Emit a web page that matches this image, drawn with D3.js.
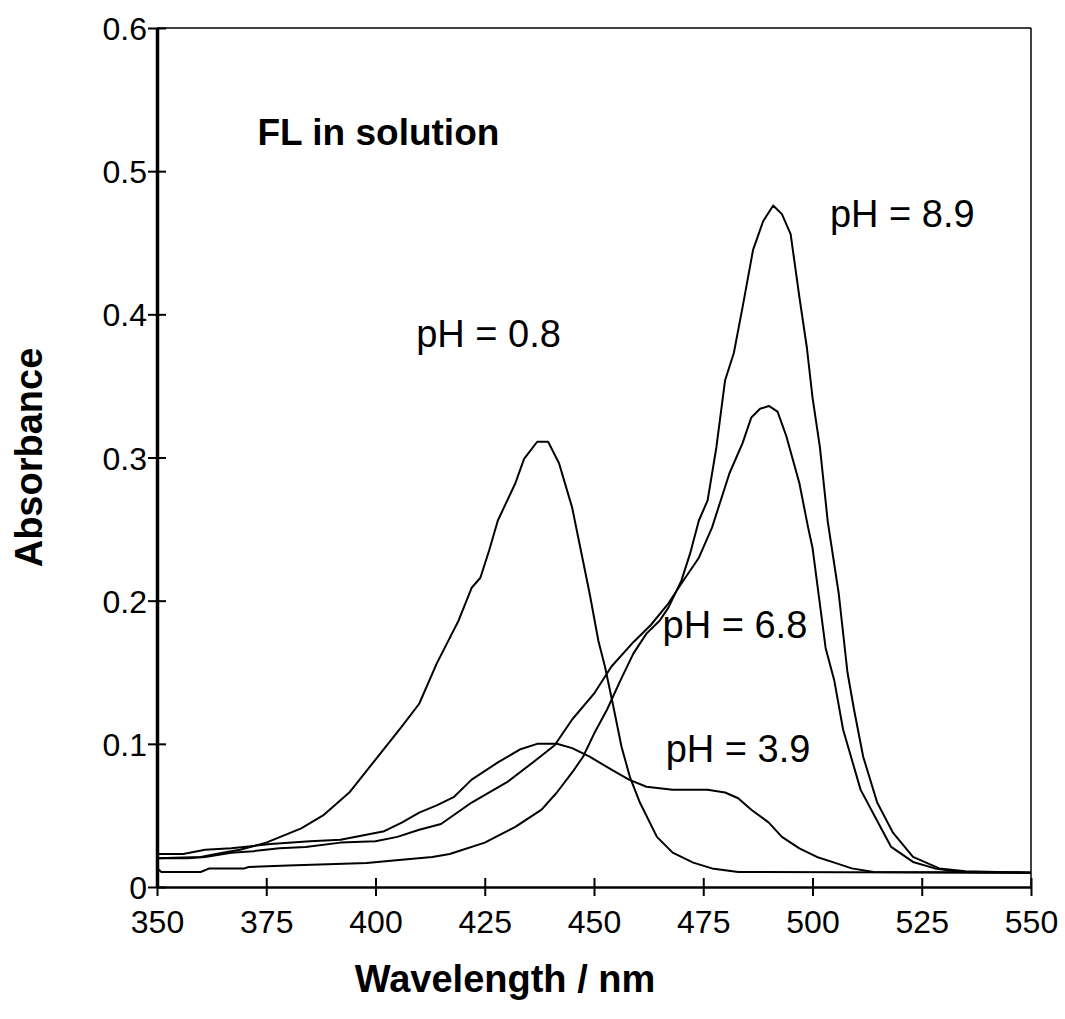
<!doctype html>
<html>
<head>
<meta charset="utf-8">
<script src="https://cdnjs.cloudflare.com/ajax/libs/d3/7.8.5/d3.min.js"></script>
<style>
  body { margin: 0; background: #fff; }
  svg { display: block; }
  text { font-family: Arial, "Liberation Sans", sans-serif; fill: #000; }
</style>
</head>
<body>
<svg id="chart" width="1065" height="1019"></svg>
<script>
// spectra: [wavelength nm, absorbance]
const ph08 = [[350,0.020],[360,0.021],[365,0.024],[369,0.026],[375,0.031],[383,0.041],[388,0.050],
  [394,0.066],[400,0.089],[406,0.112],[410,0.128],[414,0.156],[417,0.174],[419,0.186],[422,0.209],
  [424,0.216],[426,0.235],[428,0.256],[430,0.269],[432,0.282],[434,0.299],[437,0.311],[439.5,0.311],
  [442,0.296],[445,0.265],[447,0.235],[449,0.205],[451,0.172],[452.5,0.154],[454.3,0.128],[456.3,0.098],
  [458.2,0.077],[460.5,0.059],[464.4,0.035],[468,0.024],[472.7,0.017],[477,0.013],[483,0.0105],[550,0.010]];
const ph39 = [[350,0.023],[356,0.023],[361,0.026],[367,0.027],[376,0.030],[385,0.032],[392,0.033],
  [397,0.036],[402,0.039],[406,0.045],[410,0.052],[414,0.057],[418,0.063],[422,0.075],[428,0.087],
  [433,0.096],[437,0.100],[441.5,0.100],[445,0.097],[449,0.091],[454,0.082],[458,0.075],[462,0.070],
  [468,0.068],[476,0.068],[480,0.066],[483,0.062],[486,0.054],[490,0.045],[493,0.035],[497,0.027],
  [501,0.021],[505,0.017],[509,0.013],[514,0.0105],[550,0.010]];
const ph68 = [[350,0.020],[357,0.020],[361,0.021],[367,0.024],[372,0.025],[378,0.027],[384,0.028],
  [392,0.031],[400,0.032],[405,0.035],[410,0.040],[415,0.044],[422,0.059],[430,0.073],[436,0.087],
  [441,0.099],[445,0.117],[450,0.135],[454,0.154],[459,0.171],[463,0.183],[467,0.198],[470,0.212],
  [474,0.230],[477,0.251],[481,0.289],[484,0.310],[486,0.328],[488,0.334],[490,0.336],[492,0.332],
  [494,0.315],[497,0.282],[499,0.251],[500,0.237],[503,0.167],[505,0.144],[507,0.110],[511,0.068],
  [515,0.045],[518,0.028],[523,0.0175],[528,0.013],[534,0.0105],[550,0.010]];
const ph89 = [[350,0.013],[351,0.0105],[360,0.0105],[362,0.013],[370,0.013],[371,0.014],[380,0.015],
  [398,0.0167],[406,0.019],[413,0.021],[417,0.023],[425,0.031],[432,0.042],[438,0.054],[441.5,0.066],
  [445,0.080],[447.5,0.091],[450,0.107],[453,0.124],[456,0.144],[459,0.163],[462,0.177],[465,0.186],
  [467,0.195],[470,0.214],[472,0.233],[474,0.256],[476,0.270],[478,0.307],[480,0.354],[482,0.373],
  [484,0.405],[486.4,0.445],[488.7,0.465],[491,0.476],[493,0.470],[495,0.456],[497,0.412],[498.7,0.377],
  [500,0.342],[501.7,0.307],[503.5,0.255],[506,0.205],[508,0.150],[509.5,0.124],[511.6,0.091],
  [514.8,0.059],[518.4,0.038],[523,0.021],[529,0.013],[535,0.011],[550,0.010]];

const seriesNames = ["pH = 0.8", "pH = 3.9", "pH = 6.8", "pH = 8.9"];
const xTicks = [350, 375, 400, 425, 450, 475, 500, 525, 550];
const yTicks = [0, 0.1, 0.2, 0.3, 0.4, 0.5, 0.6];

const svg = d3.select("#chart");
const x = d3.scaleLinear().domain([350, 550]).range([157, 1031]);
const y = d3.scaleLinear().domain([0, 0.6]).range([887, 28]);

// frame (top and right)
svg.append("line").attr("x1", x(350)).attr("x2", x(550)).attr("y1", y(0.6)).attr("y2", y(0.6))
  .attr("stroke", "#000").attr("stroke-width", 1.5);
svg.append("line").attr("x1", x(550)).attr("x2", x(550)).attr("y1", y(0.6)).attr("y2", y(0))
  .attr("stroke", "#000").attr("stroke-width", 1.5);

// axes, ticks crossing the line
const yAxis = d3.axisLeft(y).tickValues(yTicks).tickFormat(d => d === 0 ? "0" : d3.format(".1f")(d))
  .tickSizeInner(9).tickSizeOuter(0).tickPadding(2);
const gy = svg.append("g").attr("transform", `translate(${x(350)},0)`).call(yAxis);
gy.select(".domain").attr("stroke-width", 3.5);
gy.selectAll(".tick line").attr("x1", 9).attr("x2", -9).attr("stroke-width", 2);
gy.selectAll(".tick text").attr("x", -10).attr("dy", "0.36em")
  .style("font-size", "32px").style("font-family", "Arial, 'Liberation Sans', sans-serif");

const xAxis = d3.axisBottom(x).tickValues(xTicks).tickSizeInner(9).tickSizeOuter(0);
const gx = svg.append("g").attr("transform", `translate(0,${y(0)})`).call(xAxis);
gx.select(".domain").attr("stroke-width", 2.5);
gx.selectAll(".tick line").attr("y1", -9).attr("y2", 9).attr("stroke-width", 2);
gx.selectAll(".tick text").attr("y", 23).attr("dy", "0.71em")
  .style("font-size", "32px").style("font-family", "Arial, 'Liberation Sans', sans-serif");

// spectra
const line = d3.line().x(d => x(d[0])).y(d => y(d[1]));
svg.append("g").selectAll("path").data([ph08, ph39, ph68, ph89]).join("path")
  .attr("d", line).attr("fill", "none").attr("stroke", "#000").attr("stroke-width", 2)
  .attr("stroke-linejoin", "round");

// labels
const labelAt = [[409.3, 0.377], [466.4, 0.087], [465.7, 0.174], [504, 0.461]];
svg.append("g").selectAll("text").data(seriesNames).join("text")
  .attr("x", (d, i) => x(labelAt[i][0])).attr("y", (d, i) => y(labelAt[i][1]))
  .style("font-size", "38px").text(d => d);

svg.append("text").attr("x", x(373)).attr("y", y(0.518))
  .style("font-size", "37px").style("font-weight", "bold").text("FL in solution");

svg.append("text").attr("transform", `translate(42,${(y(0) + y(0.6)) / 2}) rotate(-90)`)
  .attr("text-anchor", "middle").style("font-size", "38px").style("font-weight", "bold")
  .text("Absorbance");

svg.append("text").attr("x", 505).attr("y", 992).attr("text-anchor", "middle")
  .style("font-size", "38px").style("font-weight", "bold").text("Wavelength / nm");
</script>
</body>
</html>
